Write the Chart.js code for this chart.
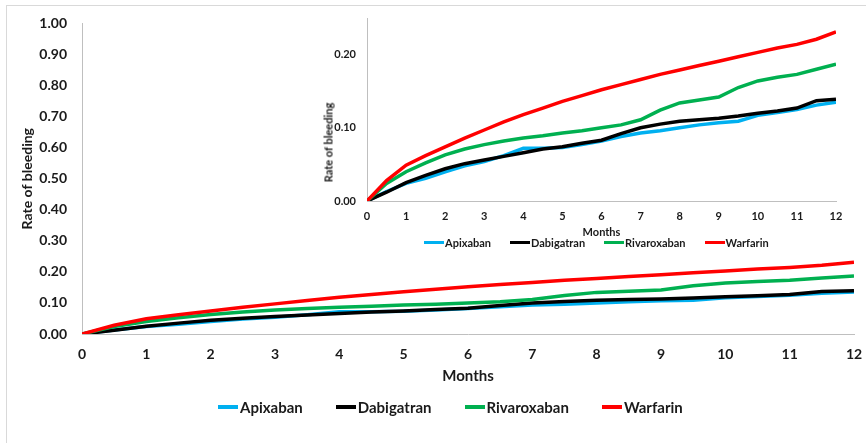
<!DOCTYPE html>
<html>
<head>
<meta charset="utf-8">
<script src="https://cdn.jsdelivr.net/npm/chart.js@4.4.0/dist/chart.umd.min.js"></script>
<style>
  html, body { margin: 0; padding: 0; background: #fff; }
  body { width: 866px; height: 443px; position: relative; overflow: hidden; font-family: Lato, sans-serif; }
  .frame { position: absolute; left: 6px; top: 5px; width: 900px; height: 500px; border: 1px solid #d9d9d9; }
  #mainChart { position: absolute; left: 0; top: 0; }
  #insetChart { position: absolute; left: 300px; top: 0; }
  .legend { position: absolute; display: flex; align-items: center; font-weight: bold; color: #1a1a1a; white-space: nowrap; }
  .legend .item { display: flex; align-items: center; }
  .legend .swatch { display: inline-block; }
  #mainLegend { left: 218px; top: 398px; font-size: 15px; gap: 33px; }
  #mainLegend .swatch { width: 20px; height: 4px; margin-right: 2px; }
  #insetLegend { left: 424px; top: 236px; font-size: 11px; gap: 19px; }
  #insetLegend .swatch { width: 20px; height: 3px; margin-right: 1px; }
  .insetYTitle { position: absolute; left: 278px; top: 136px; width: 100px; text-align: center;
    transform: rotate(-90deg); font-size: 11px; font-weight: bold; color: #1a1a1a; }
</style>
</head>
<body>
<div class="frame"></div>
<canvas id="mainChart" width="866" height="443"></canvas>
<canvas id="insetChart" width="566" height="260"></canvas>
<div class="insetYTitle">Rate of bleeding</div>
<div class="legend" id="insetLegend"></div>
<div class="legend" id="mainLegend"></div>

<script>
  const months = [0, 0.5, 1, 1.5, 2, 2.5, 3, 3.5, 4, 4.5, 5, 5.5, 6, 6.5, 7, 7.5, 8, 8.5, 9, 9.5, 10, 10.5, 11, 11.5, 12];
  const apixaban    = [0, 0.013, 0.024, 0.031, 0.040, 0.048, 0.054, 0.062, 0.072, 0.072, 0.073, 0.077, 0.082, 0.088, 0.093, 0.096, 0.100, 0.104, 0.107, 0.109, 0.117, 0.121, 0.125, 0.131, 0.135];
  const dabigatran  = [0, 0.012, 0.025, 0.035, 0.044, 0.051, 0.056, 0.061, 0.066, 0.071, 0.074, 0.079, 0.083, 0.092, 0.100, 0.105, 0.109, 0.111, 0.113, 0.116, 0.120, 0.123, 0.127, 0.137, 0.139];
  const rivaroxaban = [0, 0.024, 0.040, 0.052, 0.063, 0.071, 0.077, 0.082, 0.086, 0.089, 0.093, 0.096, 0.100, 0.104, 0.111, 0.124, 0.134, 0.138, 0.142, 0.155, 0.164, 0.169, 0.173, 0.180, 0.187];
  const warfarin    = [0, 0.028, 0.049, 0.062, 0.074, 0.086, 0.097, 0.108, 0.118, 0.127, 0.136, 0.144, 0.152, 0.159, 0.166, 0.173, 0.179, 0.185, 0.191, 0.197, 0.203, 0.209, 0.214, 0.221, 0.231];

  const seriesNames = ['Apixaban', 'Dabigatran', 'Rivaroxaban', 'Warfarin'];
  const seriesColors = ['#00b0f0', '#000000', '#00b050', '#ff0000'];
  const seriesValues = [apixaban, dabigatran, rivaroxaban, warfarin];

  const monthTicks = [0, 1, 2, 3, 4, 5, 6, 7, 8, 9, 10, 11, 12];
  const mainRateTicks = [0, 0.1, 0.2, 0.3, 0.4, 0.5, 0.6, 0.7, 0.8, 0.9, 1.0];
  const insetRateTicks = [0, 0.1, 0.2];

  const textColor = '#1a1a1a';
  const axisColor = '#bfbfbf';

  function makeDatasets(width) {
    return seriesNames.map((name, i) => ({
      label: name,
      data: months.map((m, j) => ({ x: m, y: seriesValues[i][j] })),
      borderColor: seriesColors[i],
      backgroundColor: seriesColors[i],
      borderWidth: width,
      pointRadius: 0,
      tension: 0,
      order: seriesNames.length - i   // warfarin on top
    }));
  }

  function makeOptions(cfg) {
    return {
      responsive: false,
      animation: false,
      devicePixelRatio: 1,
      layout: { padding: cfg.padding },
      plugins: { legend: { display: false }, tooltip: { enabled: false } },
      scales: {
        x: {
          type: 'linear', min: 0, max: 12,
          afterBuildTicks: s => { s.ticks = monthTicks.map(v => ({ value: v })); },
          afterFit: s => { s.height = cfg.xHeight; },
          // hidden tick marks still push the labels down; keeps side padding small
          grid: { display: false, drawTicks: true, tickLength: cfg.xTickLen },
          border: { color: axisColor, width: 1 },
          ticks: { autoSkip: false, maxRotation: 0, padding: 3, color: textColor,
                   font: { size: cfg.tickSize, weight: 'bold' } },
          title: { display: true, text: 'Months', color: textColor, padding: 0,
                   font: { size: cfg.titleSize, weight: 'bold' } }
        },
        y: {
          min: 0, max: cfg.yMax,
          afterBuildTicks: s => { s.ticks = cfg.yTicks.map(v => ({ value: v })); },
          afterFit: s => { s.width = cfg.yWidth; },
          grid: { display: false, drawTicks: false },
          border: { color: axisColor, width: 1 },
          ticks: { padding: cfg.yPad, color: textColor, callback: v => v.toFixed(2),
                   font: { size: cfg.tickSize, weight: 'bold' } },
          title: { display: cfg.yTitle, text: 'Rate of bleeding', color: textColor, padding: 0,
                   font: { size: cfg.titleSize - 1, weight: 'bold' } }
        }
      }
    };
  }

  Chart.defaults.font.family = 'Lato, sans-serif';

  new Chart(document.getElementById('mainChart'), {
    type: 'line',
    data: { datasets: makeDatasets(3.5) },
    options: makeOptions({
      padding: { left: 19, top: 15, right: 12, bottom: 58 },
      xHeight: 51, xTickLen: 9, yWidth: 63, yPad: 15,
      yMax: 1, yTicks: mainRateTicks, yTitle: true,
      tickSize: 14, titleSize: 15
    })
  });

  new Chart(document.getElementById('insetChart'), {
    type: 'line',
    data: { datasets: makeDatasets(3.5) },
    options: makeOptions({
      padding: { left: 22, top: 18, right: 30, bottom: 21 },
      xHeight: 38, xTickLen: 6, yWidth: 45, yPad: 11,
      yMax: 0.25, yTicks: insetRateTicks, yTitle: false,
      tickSize: 11, titleSize: 11
    })
  });

  // legends
  function buildLegend(id) {
    const box = document.getElementById(id);
    seriesNames.forEach((name, i) => {
      const item = document.createElement('span');
      item.className = 'item';
      item.innerHTML = `<span class="swatch" style="background:${seriesColors[i]}"></span>${name}`;
      box.appendChild(item);
    });
  }
  buildLegend('mainLegend');
  buildLegend('insetLegend');
</script>
</body>
</html>
